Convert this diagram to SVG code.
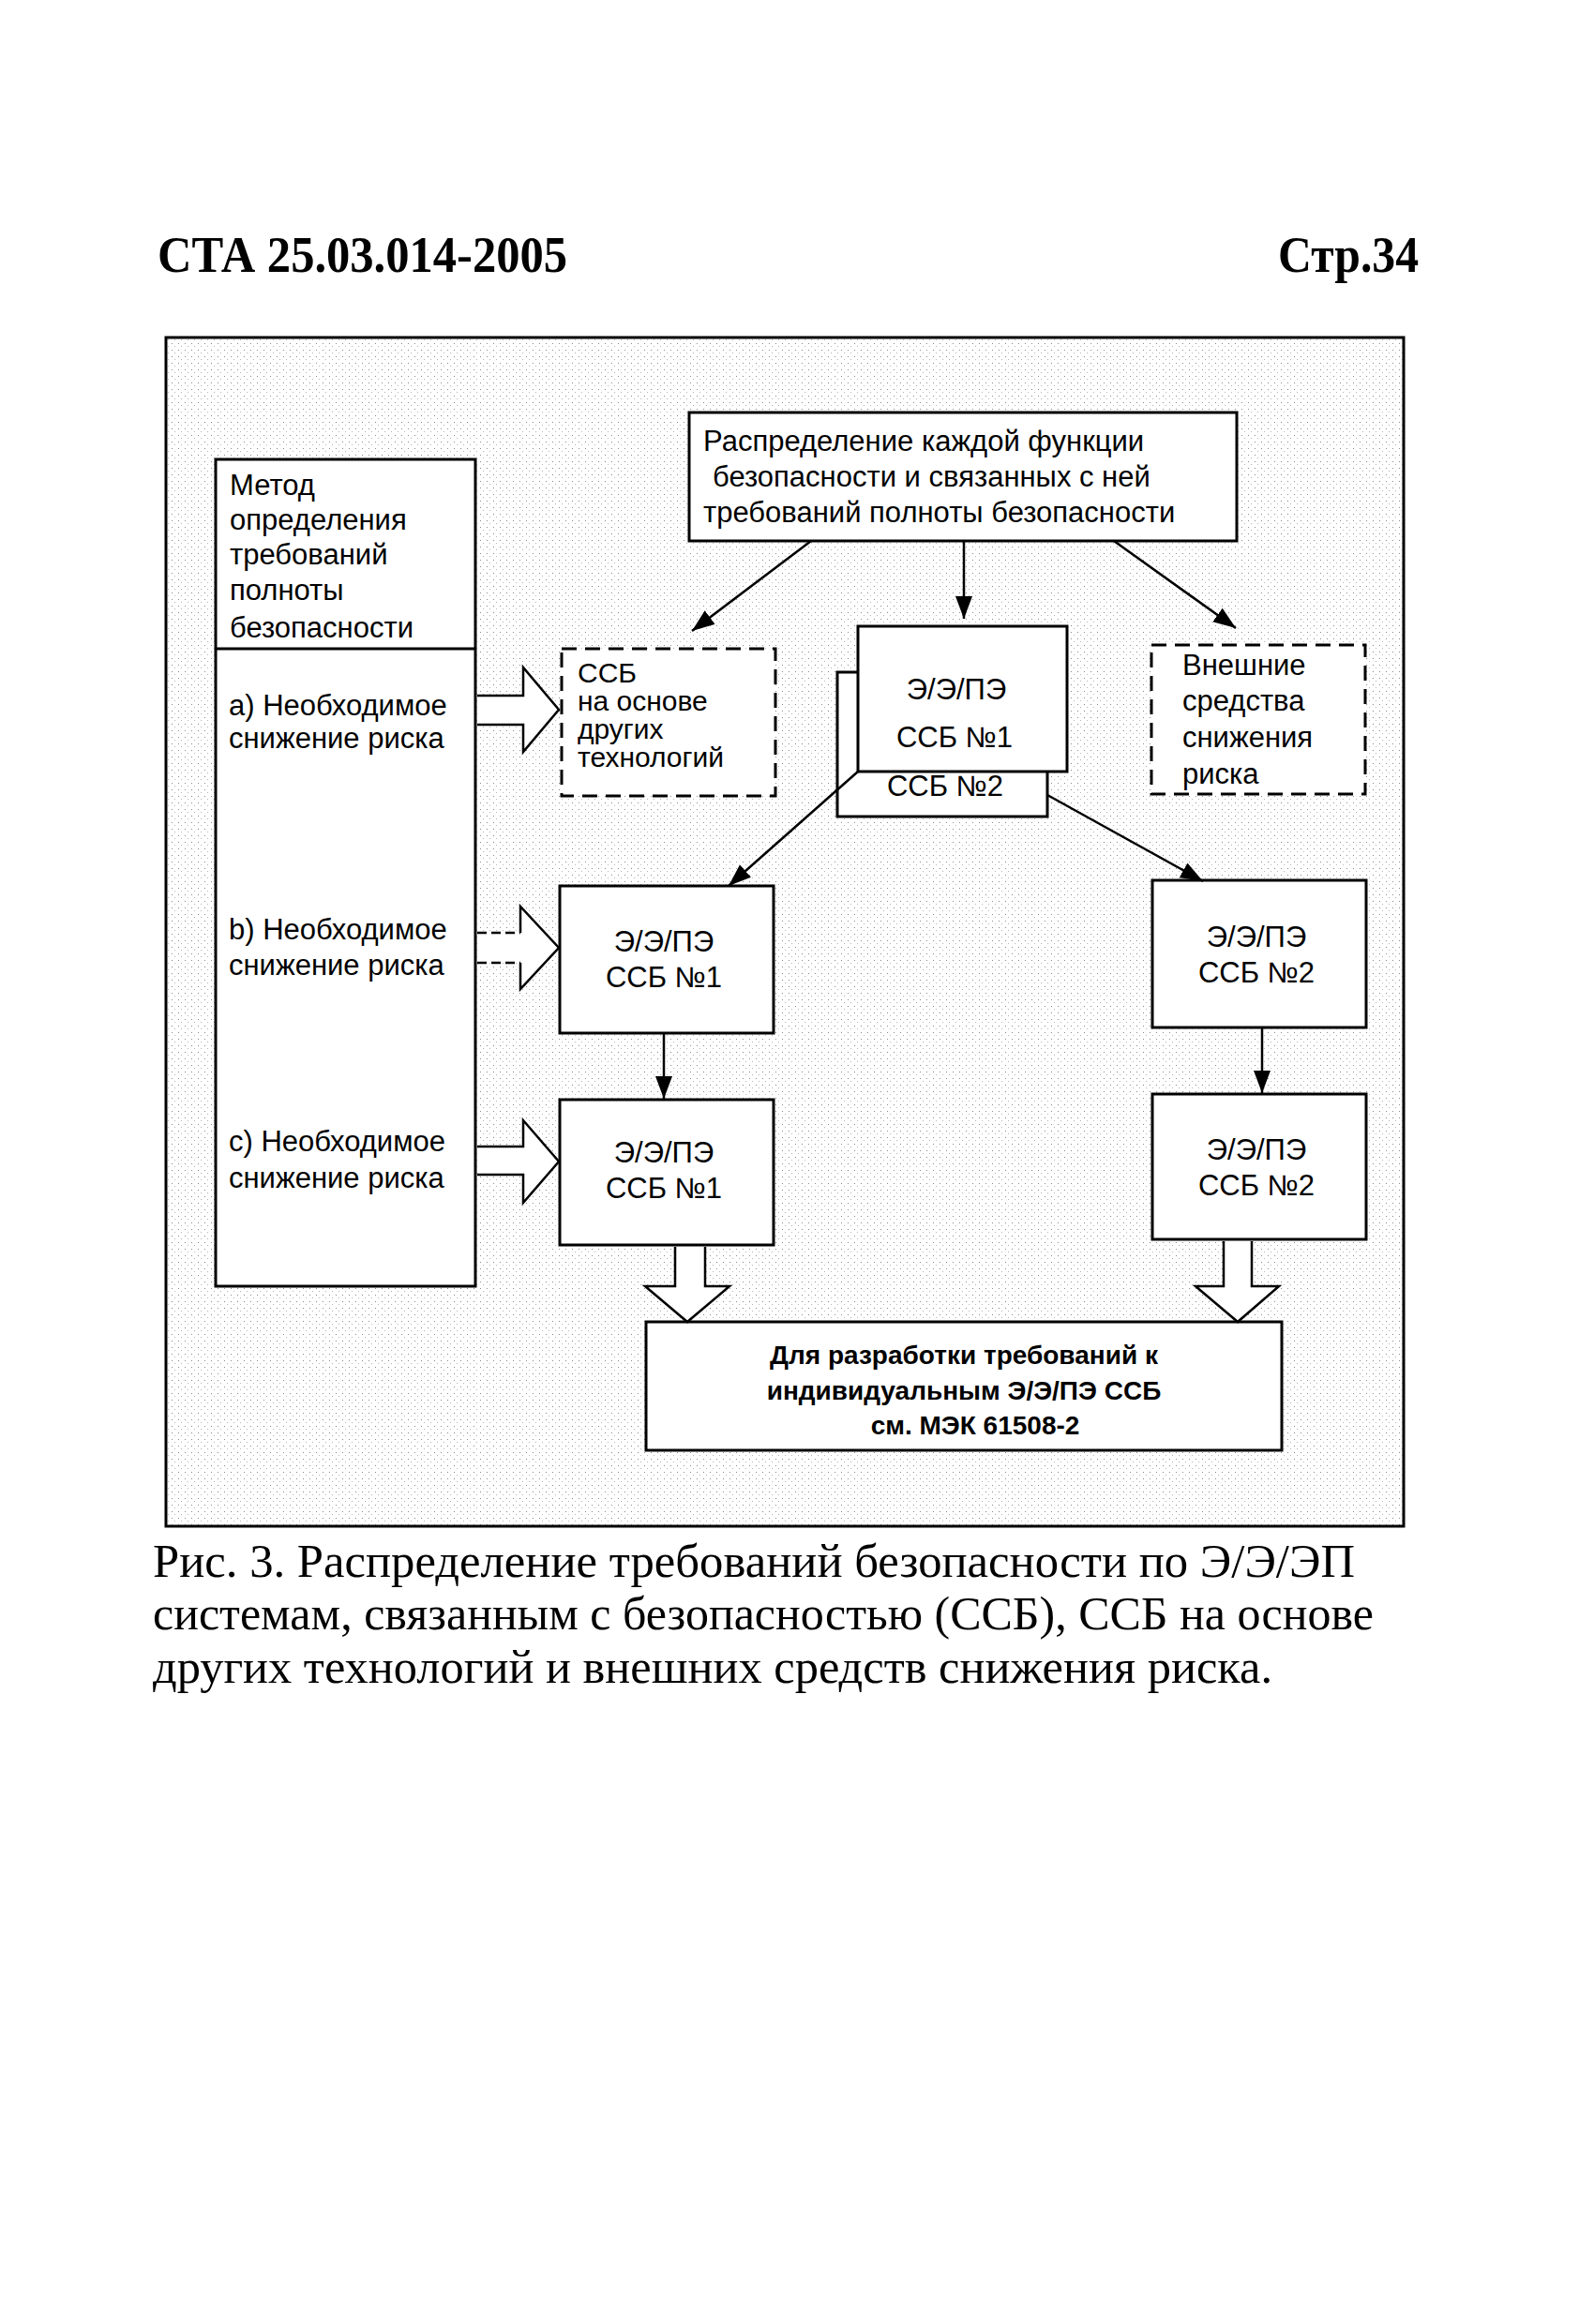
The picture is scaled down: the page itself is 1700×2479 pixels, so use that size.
<svg xmlns="http://www.w3.org/2000/svg" width="1700" height="2479" viewBox="0 0 1700 2479">
<style>
.box{fill:#fff;stroke:#000;stroke-width:3}
.dash{fill:#fff;stroke:#000;stroke-width:3;stroke-dasharray:16 9}
.t{font-family:"Liberation Sans",Arial,sans-serif;font-size:31px;fill:#000}
.tc{font-family:"Liberation Sans",Arial,sans-serif;font-size:31px;fill:#000;text-anchor:middle}
.tb{font-family:"Liberation Sans",Arial,sans-serif;font-size:28px;font-weight:bold;fill:#000;text-anchor:middle}
.hd{font-family:"Liberation Serif","Times New Roman",serif;font-size:54px;font-weight:bold;fill:#000}
.cap{font-family:"Liberation Serif","Times New Roman",serif;font-size:51px;fill:#000}
.ln{fill:none;stroke:#000;stroke-width:2.5;marker-end:url(#ah)}
.hollow{fill:#fff;stroke:#000;stroke-width:2.5;stroke-linejoin:miter}
.hfill{fill:#fff;stroke:none}
.hdash{fill:none;stroke:#000;stroke-width:2.5;stroke-dasharray:10 5}
</style>
<defs>
<marker id="ah" viewBox="0 0 24 18" refX="24" refY="9" markerWidth="24" markerHeight="18" markerUnits="userSpaceOnUse" orient="auto">
<path d="M0,0 L24,9 L0,18 z" fill="#000"/>
</marker>
<pattern id="stip" width="7" height="7" patternUnits="userSpaceOnUse">
<rect width="7" height="7" fill="#fff"/>
<rect x="1" y="2" width="1" height="1" fill="#8a8a8a"/>
<rect x="4" y="5" width="1" height="1" fill="#b5b5b5"/>
</pattern>
</defs>
<rect width="1700" height="2479" fill="#fff"/>

<g id="header">
<text class="hd" x="168" y="290" textLength="437" lengthAdjust="spacingAndGlyphs">СТА 25.03.014-2005</text>
<text class="hd" x="1363" y="290" textLength="150" lengthAdjust="spacingAndGlyphs">Стр.34</text>
</g>

<g id="frame">
<rect x="177" y="360" width="1320" height="1268" fill="url(#stip)" stroke="#000" stroke-width="3"/>
</g>

<g id="node-method">
<rect class="box" x="230" y="490" width="277" height="882"/>
<line x1="230" y1="692" x2="507" y2="692" stroke="#000" stroke-width="3"/>
<text class="t" x="245" y="528">Метод</text>
<text class="t" x="245" y="565">определения</text>
<text class="t" x="245" y="602">требований</text>
<text class="t" x="245" y="640">полноты</text>
<text class="t" x="245" y="680">безопасности</text>
<text class="t" x="244" y="763">a) Необходимое</text>
<text class="t" x="244" y="798">снижение риска</text>
<text class="t" x="244" y="1002">b) Необходимое</text>
<text class="t" x="244" y="1040">снижение риска</text>
<text class="t" x="244" y="1228">c) Необходимое</text>
<text class="t" x="244" y="1267">снижение риска</text>
</g>

<g id="node-top">
<rect class="box" x="735" y="440" width="584" height="137"/>
<text class="t" x="750" y="481">Распределение каждой функции</text>
<text class="t" x="760" y="519">безопасности и связанных с ней</text>
<text class="t" x="750" y="557">требований полноты безопасности</text>
</g>

<g id="node-other-tech">
<rect class="dash" x="599" y="692" width="228" height="157"/>
<text class="t" x="616" y="728" style="font-size:30px">ССБ</text>
<text class="t" x="616" y="758" style="font-size:30px">на основе</text>
<text class="t" x="616" y="788" style="font-size:30px">других</text>
<text class="t" x="616" y="818" style="font-size:30px">технологий</text>
</g>

<g id="node-external">
<rect class="dash" x="1228" y="688" width="228" height="159"/>
<text class="t" x="1261" y="720">Внешние</text>
<text class="t" x="1261" y="758">средства</text>
<text class="t" x="1261" y="797">снижения</text>
<text class="t" x="1261" y="836">риска</text>
</g>

<g id="node-ssb2-back">
<rect class="box" x="893" y="717" width="224" height="154"/>
<text class="tc" x="1008" y="849">ССБ №2</text>
</g>

<g id="node-ssb1-front">
<rect class="box" x="915" y="668" width="223" height="155"/>
<text class="tc" x="1020" y="746">Э/Э/ПЭ</text>
<text class="tc" x="1018" y="797">ССБ №1</text>
</g>

<g id="node-b-ssb1">
<rect class="box" x="597" y="945" width="228" height="157"/>
<text class="tc" x="708" y="1015">Э/Э/ПЭ</text>
<text class="tc" x="708" y="1053">ССБ №1</text>
</g>

<g id="node-c-ssb1">
<rect class="box" x="597" y="1173" width="228" height="155"/>
<text class="tc" x="708" y="1240">Э/Э/ПЭ</text>
<text class="tc" x="708" y="1278">ССБ №1</text>
</g>

<g id="node-b-ssb2">
<rect class="box" x="1229" y="939" width="228" height="157"/>
<text class="tc" x="1340" y="1010">Э/Э/ПЭ</text>
<text class="tc" x="1340" y="1048">ССБ №2</text>
</g>

<g id="node-c-ssb2">
<rect class="box" x="1229" y="1167" width="228" height="155"/>
<text class="tc" x="1340" y="1237">Э/Э/ПЭ</text>
<text class="tc" x="1340" y="1275">ССБ №2</text>
</g>

<g id="node-bottom">
<rect class="box" x="689" y="1410" width="678" height="137"/>
<text class="tb" x="1028" y="1455">Для разработки требований к</text>
<text class="tb" x="1028" y="1493">индивидуальным Э/Э/ПЭ ССБ</text>
<text class="tb" x="1040" y="1530">см. МЭК 61508-2</text>
</g>

<g id="connectors">
<line class="ln" x1="865" y1="577" x2="738" y2="673"/>
<line class="ln" x1="1028" y1="577" x2="1028" y2="660"/>
<line class="ln" x1="1188" y1="577" x2="1318" y2="670"/>
<line class="ln" x1="915" y1="823" x2="777" y2="945"/>
<line class="ln" x1="1117" y1="848" x2="1283" y2="940"/>
<line class="ln" x1="708" y1="1102" x2="708" y2="1172"/>
<line class="ln" x1="1346" y1="1096" x2="1346" y2="1166"/>
<!-- hollow arrow a -->
<path class="hollow" d="M509,742 H558 V712 L596,757 L558,802 V773 H509"/>
<!-- hollow arrow b (dashed shaft) -->
<path class="hfill" d="M509,995 H555 V967 L596,1011 L555,1055 V1027 H509 z"/>
<path class="hdash" d="M509,995 H555"/>
<path class="hdash" d="M509,1027 H555"/>
<path class="hollow" style="fill:none" d="M555,995 V967 L596,1011 L555,1055 V1027"/>
<!-- hollow arrow c -->
<path class="hollow" d="M509,1223 H558 V1195 L596,1239 L558,1283 V1253 H509"/>
<!-- hollow arrows down to bottom box -->
<path class="hollow" d="M720,1330 V1372 H688 L733,1410 L778,1372 H752 V1330"/>
<path class="hollow" d="M1305,1324 V1372 H1275 L1320,1410 L1364,1372 H1335 V1324"/>
</g>

<g id="caption">
<text class="cap" x="163" y="1682" textLength="1282" lengthAdjust="spacingAndGlyphs">Рис. 3. Распределение требований безопасности по Э/Э/ЭП</text>
<text class="cap" x="163" y="1738" textLength="1302" lengthAdjust="spacingAndGlyphs">системам, связанным с безопасностью (ССБ), ССБ на основе</text>
<text class="cap" x="163" y="1795" textLength="1194" lengthAdjust="spacingAndGlyphs">других технологий и внешних средств снижения риска.</text>
</g>
</svg>
